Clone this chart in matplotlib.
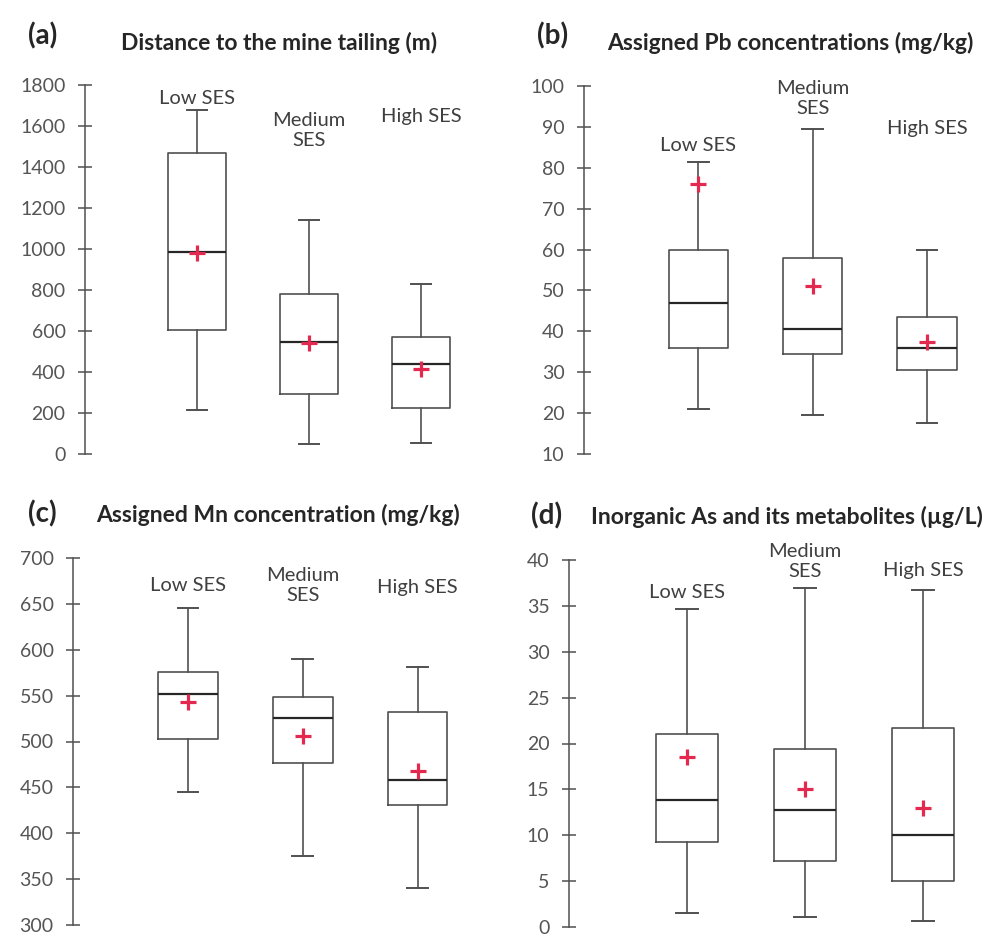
# -*- coding: utf-8 -*-
# Box plots of exposure variables by SES group, panels (a)-(d)
import numpy as np
import matplotlib.pyplot as plt

plt.rcParams['font.family'] = ['Lato', 'DejaVu Sans']

# =============================================================================
# DATA
# -----------------------------------------------------------------------------
groups = ['Low SES', 'Medium\nSES', 'High SES']

# (a) distance to the mine tailing (m)
dist_whislo = [215, 50, 55]
dist_q1 = [605, 295, 225]
dist_med = [985, 545, 440]
dist_q3 = [1470, 780, 570]
dist_whishi = [1680, 1140, 830]
dist_mean = [980, 540, 415]

# (b) assigned Pb (mg/kg)
pb_whislo = [21, 19.5, 17.5]
pb_q1 = [36, 34.5, 30.5]
pb_med = [47, 40.5, 36]
pb_q3 = [60, 58, 43.5]
pb_whishi = [81.5, 89.5, 60]
pb_mean = [76, 51, 37.5]

# (c) assigned Mn (mg/kg)
mn_whislo = [445, 375, 340]
mn_q1 = [503, 477, 431]
mn_med = [552, 526, 458]
mn_q3 = [576, 548, 532]
mn_whishi = [645, 590, 581]
mn_mean = [543, 506, 468]

# (d) inorganic As and metabolites (ug/L)
as_whislo = [1.5, 1.1, 0.7]
as_q1 = [9.3, 7.2, 5.0]
as_med = [13.8, 12.8, 10.0]
as_q3 = [21.0, 19.4, 21.7]
as_whishi = [34.7, 37.0, 36.7]
as_mean = [18.5, 15.0, 13.0]

# =============================================================================
# LAYOUT (pixels)
# -----------------------------------------------------------------------------
W, H = 987, 936
fig = plt.figure(figsize=(W / 100, H / 100), dpi=100)

panels = [
    dict(stats=(dist_whislo, dist_q1, dist_med, dist_q3, dist_whishi, dist_mean),
         box=(85, 85, 477, 454), ylim=(0, 1800), ystep=200,
         label_y=[1735, 1580, 1645],
         title='Distance to the mine tailing (m)', title_xy=(279, 43),
         letter='(a)', letter_xy=(43, 36)),
    dict(stats=(pb_whislo, pb_q1, pb_med, pb_q3, pb_whishi, pb_mean),
         box=(584, 86, 984, 454), ylim=(10, 100), ystep=10,
         label_y=[85.5, 97, 89.7],
         title='Assigned Pb concentrations (mg/kg)', title_xy=(790, 43),
         letter='(b)', letter_xy=(553, 36)),
    dict(stats=(mn_whislo, mn_q1, mn_med, mn_q3, mn_whishi, mn_mean),
         box=(73, 558, 475, 925), ylim=(300, 700), ystep=50,
         label_y=[670, 670, 668],
         title='Assigned Mn concentration (mg/kg)', title_xy=(278, 515),
         letter='(c)', letter_xy=(42, 514)),
    dict(stats=(as_whislo, as_q1, as_med, as_q3, as_whishi, as_mean),
         box=(569, 560, 982, 927), ylim=(0, 40), ystep=5,
         label_y=[36.5, 39.8, 38.9],
         title='Inorganic As and its metabolites (\u00b5g/L)', title_xy=(787, 517),
         letter='(d)', letter_xy=(547, 516)),
]

edge = '#505050'
red = '#e3294f'

for p in panels:
    l, t, r, b = p['box']
    ax = fig.add_axes([l / W, 1 - b / H, (r - l) / W, (b - t) / H])
    wlo, q1, med, q3, whi, mean = p['stats']
    bstats = []
    for i in range(len(groups)):
        bstats.append(dict(whislo=wlo[i], q1=q1[i], med=med[i], q3=q3[i],
                           whishi=whi[i], mean=mean[i], fliers=[]))
    ax.bxp(bstats, positions=[1, 2, 3], widths=0.52, capwidths=0.18,
           showmeans=True, showfliers=False,
           boxprops=dict(color=edge, linewidth=1.2),
           whiskerprops=dict(color=edge, linewidth=1.2),
           capprops=dict(color=edge, linewidth=1.4),
           medianprops=dict(color='#262626', linewidth=1.6),
           meanprops=dict(marker='+', markersize=12, markeredgewidth=2.3,
                          markeredgecolor=red, markerfacecolor=red))

    y0, y1 = p['ylim']
    ax.set_xlim(0, 3.5)
    ax.set_ylim(y0, y1)
    ax.set_yticks(np.arange(y0, y1 + p['ystep'] / 2, p['ystep']))
    ax.set_xticks([])
    for s in ['top', 'right', 'bottom']:
        ax.spines[s].set_visible(False)
    ax.spines['left'].set_color(edge)
    ax.spines['left'].set_linewidth(1.1)
    ax.tick_params(axis='y', direction='inout', length=10, width=1.1,
                   color=edge, labelsize=14, labelcolor='#555555', pad=9)

    for i, g in enumerate(groups):
        ax.text(i + 1, p['label_y'][i], g, ha='center', va='center',
                fontsize=14.5, color='#404040', linespacing=1.2)

    tx, ty = p['title_xy']
    fig.text(tx / W, 1 - ty / H, p['title'], ha='center', va='center',
             fontsize=16.5, fontweight='bold', color='#262626')
    lx, ly = p['letter_xy']
    fig.text(lx / W, 1 - ly / H, p['letter'], ha='center', va='center',
             fontsize=20, fontweight='bold', color='#262626')

plt.savefig('out.png', dpi=100)
